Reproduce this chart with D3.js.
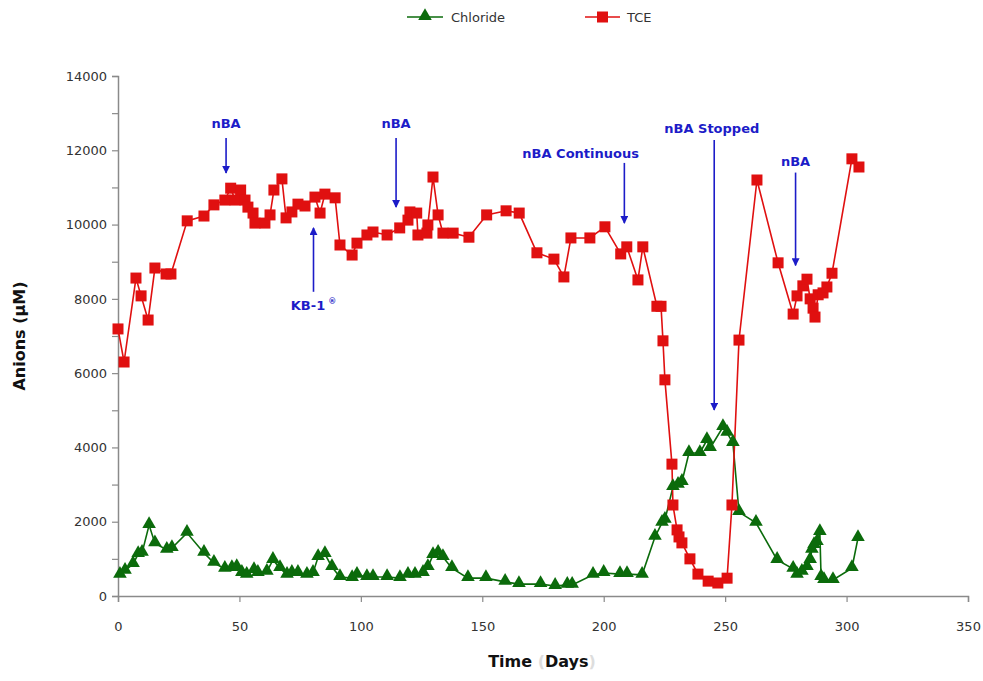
<!DOCTYPE html>
<html><head><meta charset="utf-8">
<script src="https://cdn.jsdelivr.net/npm/d3@7"></script>
<style>body{margin:0;background:#fff}svg{display:block}</style>
</head><body>
<svg id="c" width="983" height="681"></svg>
<script>
const tceDays = [0,2.5,7.4,9.5,12.4,15.2,19.8,21.8,28.5,35.4,39.5,44,46.4,48.2,50.5,52.3,53.5,55.6,56.4,60.5,62.6,64.2,67.5,69.2,71.6,74.1,77,81.1,83.2,85.2,89.4,91.4,96.4,98.4,102.5,105,110.8,116,119.4,120.2,123,123.5,127.2,127.6,129.7,131.8,133.8,138,144.5,151.8,159.8,165.2,172.5,179.5,183.6,186.5,194.3,200.5,207,209.5,214.1,216.1,221.9,223.6,224.4,225.2,228.1,228.5,230.2,231,232.2,235.5,238.8,243,247,250.8,252.8,255.7,263.1,271.8,278,279.6,282,283.7,285,286.2,287,288.3,290.3,291.9,294,302.2,305.1];
const tceVals = [7190,6300,8560,8080,7430,8830,8670,8670,10100,10230,10530,10660,10980,10660,10930,10660,10470,10310,10040,10040,10260,10930,11230,10180,10340,10550,10500,10740,10310,10820,10720,9450,9180,9500,9720,9800,9720,9910,10120,10340,10310,9720,9770,9990,11280,10260,9770,9770,9660,10260,10370,10310,9240,9070,8590,9640,9640,9940,9210,9400,8510,9400,7800,7800,6870,5820,3550,2450,1780,1590,1430,1000,590,400,350,480,2450,6890,11200,8970,7590,8080,8350,8530,8000,7750,7510,8110,8160,8320,8690,11770,11550];

const clDays = [0.8,2.9,6.2,8.3,9.9,12.8,15.2,20.1,22.2,28.4,35.4,39.5,44,46.9,48.9,51,53,56,57.6,61.3,63.8,66.7,69.6,71.6,74.1,77.8,80.3,82.4,85.2,88.1,91.4,96.4,98.4,102.5,105,110.8,116.1,119.4,122.3,125.6,127.6,129.7,131.8,133.8,137.5,144.1,151.5,159.4,165.1,174,180,185,187,195.6,200,206.7,209.6,215.8,221.1,224,225.2,228.5,230.6,232.2,235.1,239.6,242.5,243.8,249.1,250.8,253.2,255.7,262.7,271.4,278,279.6,281.6,283.7,285,285.7,286.6,287.8,289,289.5,290.7,294.4,302.2,304.7];
const clVals = [570,680,860,1130,1160,1910,1420,1240,1290,1700,1160,890,730,750,780,620,570,700,620,650,970,750,570,620,620,570,620,1050,1130,780,510,480,570,510,510,510,480,570,570,620,780,1100,1160,1050,750,480,480,380,320,320,270,300,300,570,620,590,590,570,1590,1970,2050,2930,2990,3070,3850,3850,4200,3980,4550,4390,4120,2260,1970,970,730,570,650,780,970,1240,1370,1450,1720,510,430,430,750,1560];

const xTicks = [0,50,100,150,200,250,300,350];
const yTicks = [0,2000,4000,6000,8000,10000,12000,14000];

const notes = [
  {text:"nBA", day:44.5, labelY:12600, from:12330, to:11390},
  {text:"nBA", day:114.5, labelY:12600, from:12330, to:10470},
  {text:"KB-1", sup:"®", day:80.5, labelY:7700, from:8190, to:9910},
  {text:"nBA Continuous", day:190.5, arrowDay:208.5, labelY:11800, from:11660, to:10040},
  {text:"nBA Stopped", day:244.5, arrowDay:245.5, labelY:12470, from:12280, to:5010},
  {text:"nBA", day:279, labelY:11580, from:11400, to:8900}
];

const svg = d3.select("#c");
const x = d3.scaleLinear().domain([0,350]).range([118,968]);
const y = d3.scaleLinear().domain([0,14000]).range([596,76]);
const font = "'Century Gothic','DejaVu Sans',sans-serif";
const axisCol = "#8a8a8a";

const xa = svg.append("g").attr("transform","translate(0,596)")
  .call(d3.axisBottom(x).tickValues(xTicks).tickSize(6).tickPadding(20).tickFormat(d3.format("d")));
const ya = svg.append("g").attr("transform","translate(118,0)")
  .call(d3.axisLeft(y).tickValues(d3.range(0,14001,1000)).tickSize(6).tickPadding(5)
    .tickFormat(d => yTicks.includes(d) ? d : ""));
[xa,ya].forEach(g=>{
  g.select(".domain").attr("stroke",axisCol).attr("stroke-width",1.5);
  g.selectAll(".tick line").attr("stroke",axisCol).attr("stroke-width",1.2);
  g.selectAll(".tick text").attr("fill","#333").style("font-family",font).style("font-size","13px");
});

svg.append("text").attr("x",542).attr("y",667).attr("text-anchor","middle")
  .style("font-family",font).style("font-size","16px").style("font-weight","bold").attr("fill","#111")
  .html('Time <tspan fill="#ddd">(</tspan>Days<tspan fill="#ddd">)</tspan>');
svg.append("text").attr("transform","translate(25,336) rotate(-90)").attr("text-anchor","middle")
  .style("font-family",font).style("font-size","16px").style("font-weight","bold").attr("fill","#111")
  .text("Anions (µM)");

const red = "#e01010", green = "#0b6b0b";
const line = d3.line().x(d=>x(d[0])).y(d=>y(d[1]));
const tce = tceDays.map((d,i)=>[d,tceVals[i]]);
const cl = clDays.map((d,i)=>[d,clVals[i]]);
const tri = d3.symbol().type(d3.symbolTriangle).size(80);

svg.append("path").datum(cl).attr("d",line).attr("fill","none").attr("stroke",green).attr("stroke-width",1.6);
svg.append("path").datum(tce).attr("d",line).attr("fill","none").attr("stroke",red).attr("stroke-width",1.6);
svg.selectAll(".cl").data(cl).join("path").attr("d",tri)
  .attr("transform",d=>`translate(${x(d[0])},${y(d[1])-1})`).attr("fill",green);
svg.selectAll(".tce").data(tce).join("rect")
  .attr("x",d=>x(d[0])-5.5).attr("y",d=>y(d[1])-5.5).attr("width",11).attr("height",11).attr("fill",red);

const blue = "#1c1cc8";
svg.append("defs").append("marker").attr("id","ah").attr("viewBox","0 0 10 10").attr("refX",9).attr("refY",5)
  .attr("markerWidth",5).attr("markerHeight",5).attr("orient","auto-start-reverse")
  .append("path").attr("d","M0,0L10,5L0,10z").attr("fill",blue);
notes.forEach(n=>{
  const t = svg.append("text").attr("x",x(n.day)).attr("y",y(n.labelY)).attr("text-anchor","middle")
    .style("font-family",font).style("font-size","13px").style("font-weight","bold").attr("fill",blue).text(n.text);
  if(n.sup) t.append("tspan").attr("dy",-6).attr("dx",3).style("font-size","8px").text(n.sup);
  const ad = n.arrowDay ?? n.day;
  svg.append("line").attr("x1",x(ad)).attr("x2",x(ad)).attr("y1",y(n.from)).attr("y2",y(n.to))
    .attr("stroke",blue).attr("stroke-width",1.6).attr("marker-end","url(#ah)");
});

const lg = svg.append("g");
lg.append("line").attr("x1",407).attr("x2",443).attr("y1",17).attr("y2",17).attr("stroke",green).attr("stroke-width",1.6);
lg.append("path").attr("d",tri).attr("transform","translate(425,16)").attr("fill",green);
lg.append("text").attr("x",451).attr("y",22).text("Chloride");
lg.append("line").attr("x1",585).attr("x2",620).attr("y1",17).attr("y2",17).attr("stroke",red).attr("stroke-width",1.6);
lg.append("rect").attr("x",597).attr("y",11.5).attr("width",11).attr("height",11).attr("fill",red);
lg.append("text").attr("x",627).attr("y",22).text("TCE");
lg.selectAll("text").style("font-family",font).style("font-size","13px").attr("fill","#333");
</script>
</body></html>
